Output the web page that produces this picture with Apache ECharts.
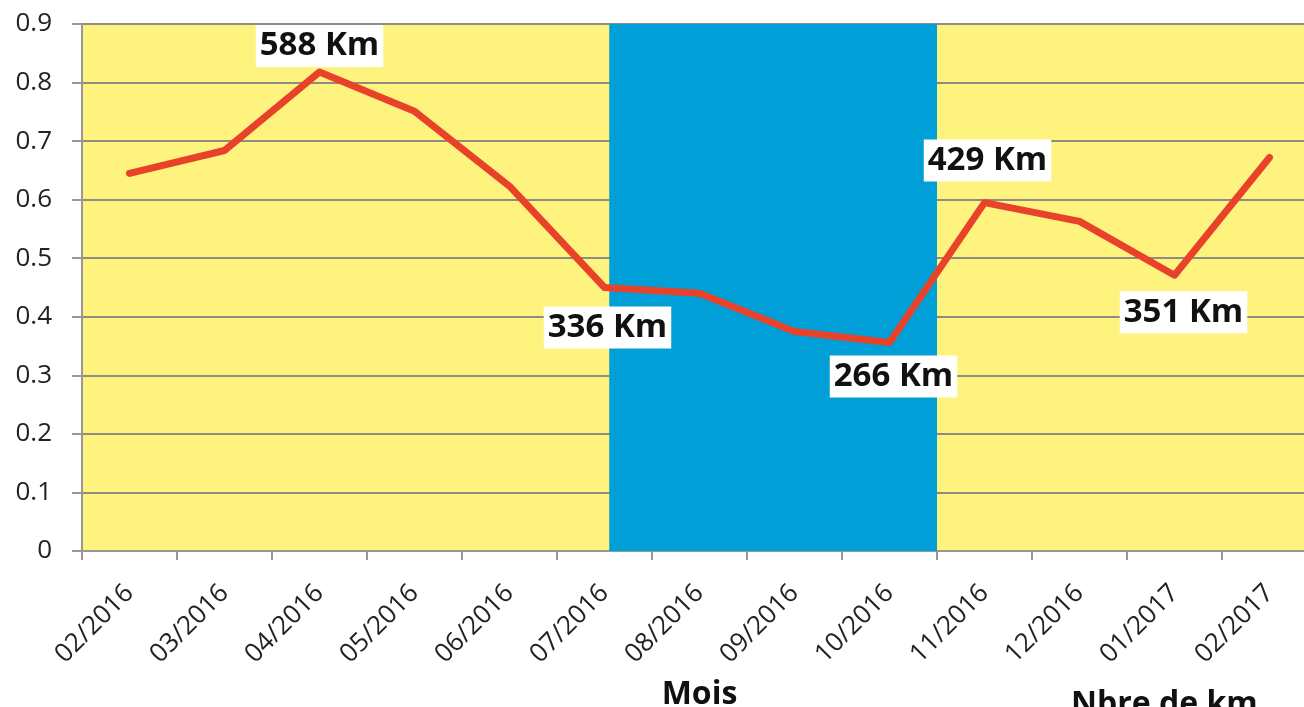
<!DOCTYPE html>
<html>
<head>
<meta charset="utf-8">
<script src="https://cdn.jsdelivr.net/npm/echarts@6/dist/echarts.min.js"></script>
<style>
  html, body { margin: 0; padding: 0; background: #fff; overflow: hidden; }
  #chart { width: 1304px; height: 707px; }
</style>
</head>
<body>
<div id="chart"></div>
<script>
var months = ['02/2016', '03/2016', '04/2016', '05/2016', '06/2016', '07/2016', '08/2016',
              '09/2016', '10/2016', '11/2016', '12/2016', '01/2017', '02/2017'];
var values = [0.645, 0.684, 0.818, 0.751, 0.623, 0.450, 0.440, 0.375, 0.356, 0.595, 0.563, 0.471, 0.672];
var kmLabels = ['', '', '588 Km', '', '', '336 Km', '', '', '266 Km', '429 Km', '', '351 Km', ''];
var yTicks = [0, 0.1, 0.2, 0.3, 0.4, 0.5, 0.6, 0.7, 0.8, 0.9];
// blue period, in category units (0 = left edge of first month)
var bandStart = 5.55;
var bandEnd = 9;

// where each km label sits relative to its point
var labelPlace = {
  2: { position: 'top', distance: 5 },
  5: { position: 'bottom', distance: 19, offset: [3, 0] },
  8: { position: 'bottom', distance: 13, offset: [4, 0] },
  9: { position: 'top', distance: 21, offset: [3, 0] },
  11: { position: 'bottom', distance: 16, offset: [9, 0] }
};

var chartDom = document.getElementById('chart');
var myChart = echarts.init(chartDom);

var lineData = [];
for (var i = 0; i < values.length; i++) {
  var item = { value: values[i] };
  if (kmLabels[i]) {
    var p = labelPlace[i] || { position: 'top', distance: 5 };
    item.label = {
      show: true,
      formatter: kmLabels[i],
      position: p.position,
      distance: p.distance,
      offset: p.offset || [0, 0]
    };
  }
  lineData.push(item);
}

var option = {
  animation: false,
  textStyle: { fontFamily: 'Open Sans' },
  title: [{
    text: 'Nbre de km',
    left: 1066,
    top: 684,
    textStyle: { fontFamily: 'Open Sans', fontWeight: 'bold', fontSize: 32, color: '#111' }
  }],
  grid: {
    left: 82,
    top: 24,
    width: 1235,
    height: 527,
    outerBoundsMode: 'none',
    containLabel: false,
    show: true,
    backgroundColor: '#FFF380',
    borderWidth: 0
  },
  xAxis: [{
    type: 'category',
    data: months,
    boundaryGap: true,
    name: 'Mois',
    nameLocation: 'middle',
    nameGap: 128,
    nameTextStyle: { fontFamily: 'Open Sans', fontWeight: 'bold', fontSize: 32, color: '#111' },
    axisLine: { lineStyle: { color: '#9b9594', width: 2 } },
    axisTick: { show: true, length: 9, lineStyle: { color: '#9b9594', width: 2 } },
    axisLabel: { rotate: 45, margin: 38, fontSize: 26, color: '#222', interval: 0 },
    splitLine: { show: false }
  }, {
    type: 'value',
    min: 0,
    max: months.length,
    show: false
  }],
  yAxis: {
    type: 'value',
    min: yTicks[0],
    max: yTicks[yTicks.length - 1],
    interval: 0.1,
    axisLine: { show: true, lineStyle: { color: '#9b9594', width: 2 } },
    axisTick: { show: true, length: 10, lineStyle: { color: '#9b9594', width: 2 } },
    axisLabel: { margin: 30, fontSize: 26, color: '#222', formatter: function (v) { return String(+v.toFixed(1)); } },
    splitLine: { show: true, lineStyle: { color: '#8f8c84', width: 2 } }
  },
  series: [{
    type: 'line',
    xAxisIndex: 1,
    data: [[bandStart, 0], [bandEnd, 0]],
    showSymbol: false,
    silent: true,
    z: 0,
    lineStyle: { opacity: 0 },
    markArea: {
      silent: true,
      itemStyle: { color: '#009FD7', opacity: 1 },
      data: [[{ xAxis: bandStart }, { xAxis: bandEnd }]]
    }
  }, {
    type: 'line',
    data: lineData,
    showSymbol: true,
    symbol: 'circle',
    symbolSize: 0.1,
    itemStyle: { color: '#E8432A', borderWidth: 0 },
    z: 5,
    lineStyle: { color: '#E8432A', width: 7, cap: 'round', join: 'round' },
    label: {
      fontFamily: 'Open Sans',
      fontWeight: 'bold',
      fontSize: 33,
      lineHeight: 36,
      color: '#111',
      opacity: 1,
      backgroundColor: '#ffffff',
      padding: [3, 4, 3, 4]
    }
  }]
};

option && myChart.setOption(option);
</script>
</body>
</html>
